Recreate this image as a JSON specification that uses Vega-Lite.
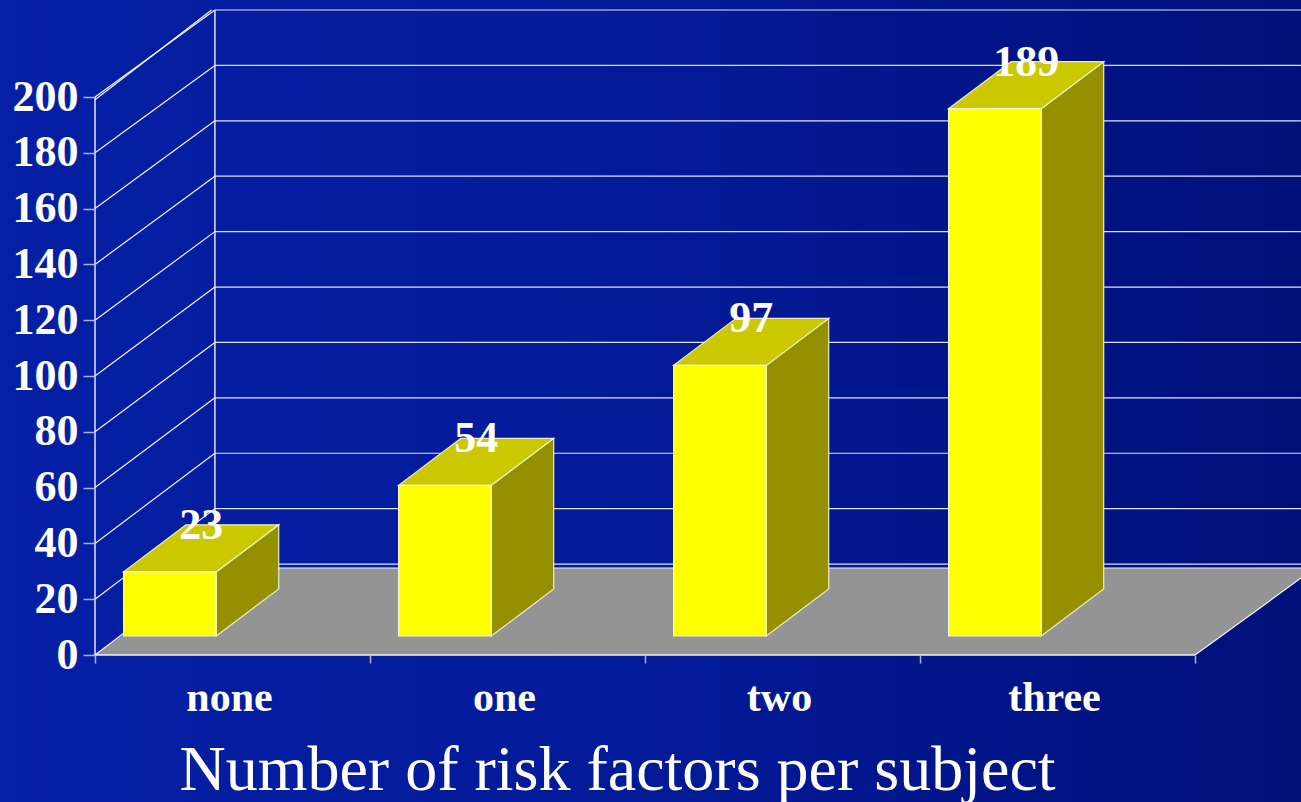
{
  "$schema": "https://vega.github.io/schema/vega-lite/v6.json",
  "width": 1301,
  "height": 802,
  "padding": 0,
  "autosize": {"type": "none"},
  "config": {"view": {"stroke": null}, "font": "Liberation Serif"},
  "params": [
    {"name": "wallX", "value": 0.436},
    {"name": "wallY", "value": 31.18},
    {"name": "backBase", "value": 32.6},
    {"name": "backScale", "value": 0.9929},
    {"name": "lift", "value": 6.81},
    {"name": "barLeft", "value": 0.104},
    {"name": "barW", "value": 0.337},
    {"name": "depthX", "value": 0.227},
    {"name": "depthY", "value": 16.85}
  ],
  "datasets": {
    "subjects": [
      {"risk": "none", "n": 23},
      {"risk": "one", "n": 54},
      {"risk": "two", "n": 97},
      {"risk": "three", "n": 189}
    ],
    "ticks": [
      {"tick": 0}, {"tick": 20}, {"tick": 40}, {"tick": 60}, {"tick": 80}, {"tick": 100},
      {"tick": 120}, {"tick": 140}, {"tick": 160}, {"tick": 180}, {"tick": 200}
    ]
  },
  "layer": [
    {
      "description": "Slide background",
      "data": {"values": [{}]},
      "mark": {
        "type": "rect",
        "color": {
          "gradient": "linear", "x1": 0, "y1": 0, "x2": 1, "y2": 0,
          "stops": [
            {"offset": 0, "color": "#051FA5"},
            {"offset": 0.5, "color": "#031A98"},
            {"offset": 1, "color": "#00107A"}
          ]
        }
      }
    },
    {
      "description": "Floor of the 3D box, also carries both axes",
      "data": {"name": "ticks"},
      "transform": [
        {"filter": "datum.tick === 0"},
        {"calculate": "[0, 1]", "as": "t"},
        {"flatten": ["t"]},
        {"calculate": "datum.t * wallY", "as": "fy"},
        {"calculate": "datum.t * wallX", "as": "fx"},
        {"calculate": "4 + datum.t * wallX", "as": "fx2"}
      ],
      "mark": {"type": "area", "orient": "horizontal", "color": "#949494", "clip": true},
      "encoding": {
        "y": {
          "field": "fy", "type": "quantitative",
          "scale": {"domain": [-52.688, 234.767], "nice": false, "zero": false},
          "axis": {
            "title": null, "offset": -95, "values": [0, 20, 40, 60, 80, 100, 120, 140, 160, 180, 200],
            "domain": false, "grid": false, "zindex": 1,
            "tickSize": 12, "tickColor": "#AEB6DC", "tickWidth": 1.5,
            "labelFont": "Liberation Serif", "labelFontWeight": "bold", "labelFontSize": 44,
            "labelColor": "#FFFFFF", "labelPadding": 5, "labelOverlap": false, "labelBound": false, "labelFlush": false
          }
        },
        "x": {
          "field": "fx", "type": "quantitative",
          "scale": {"domain": [-0.34545, 4.38545], "nice": false, "zero": false},
          "axis": {
            "title": "Number of risk factors per subject", "offset": -147, "values": [0, 1, 2, 3, 4],
            "labelExpr": "['none', 'one', 'two', 'three', ''][datum.value]",
            "domain": false, "grid": false, "zindex": 1,
            "tickSize": 8, "tickColor": "#AEB6DC", "tickWidth": 1.5,
            "labelFont": "Liberation Serif", "labelFontWeight": "bold", "labelFontSize": 42,
            "labelColor": "#FFFFFF", "labelPadding": 14, "labelOffset": 134, "labelOverlap": false, "labelBound": false, "labelFlush": false,
            "titleFont": "Liberation Serif", "titleFontWeight": "normal", "titleFontSize": 64, "titleColor": "#FFFFFF",
            "titleX": 617, "titleY": 134, "titleAlign": "center", "titleBaseline": "alphabetic"
          }
        },
        "x2": {"field": "fx2"}
      }
    },
    {
      "description": "Gridlines across the back wall",
      "data": {"name": "ticks"},
      "transform": [
        {"calculate": "wallX", "as": "x0"},
        {"calculate": "4 + wallX", "as": "x1"},
        {"calculate": "backBase + datum.tick * backScale", "as": "yb"}
      ],
      "mark": {"type": "rule", "color": "#E0E3F3", "strokeWidth": 1.2, "clip": true},
      "encoding": {
        "x": {"field": "x0", "type": "quantitative"},
        "x2": {"field": "x1"},
        "y": {"field": "yb", "type": "quantitative"}
      }
    },
    {
      "description": "Back edge of the floor",
      "data": {"name": "ticks"},
      "transform": [
        {"filter": "datum.tick === 0"},
        {"calculate": "wallX", "as": "x0"},
        {"calculate": "4 + wallX", "as": "x1"},
        {"calculate": "wallY", "as": "yb"}
      ],
      "mark": {"type": "rule", "color": "#F2F3FA", "strokeWidth": 1.2, "clip": true},
      "encoding": {
        "x": {"field": "x0", "type": "quantitative"},
        "x2": {"field": "x1"},
        "y": {"field": "yb", "type": "quantitative"}
      }
    },
    {
      "description": "Diagonal gridlines on the side wall",
      "data": {"name": "ticks"},
      "transform": [
        {"calculate": "0", "as": "x0"},
        {"calculate": "wallX", "as": "x1"},
        {"calculate": "backBase + datum.tick * backScale", "as": "yb"}
      ],
      "mark": {"type": "rule", "color": "#F2F3FA", "strokeWidth": 1.2},
      "encoding": {
        "x": {"field": "x0", "type": "quantitative"},
        "x2": {"field": "x1"},
        "y": {"field": "tick", "type": "quantitative"},
        "y2": {"field": "yb"}
      }
    },
    {
      "description": "Extra diagonal doubling the top edge of the side wall",
      "data": {"name": "ticks"},
      "transform": [
        {"filter": "datum.tick === 200"},
        {"calculate": "0", "as": "x0"},
        {"calculate": "wallX - 0.012", "as": "x1"},
        {"calculate": "datum.tick - 1", "as": "y0"},
        {"calculate": "backBase + datum.tick * backScale", "as": "yb"}
      ],
      "mark": {"type": "rule", "color": "#F2F3FA", "strokeWidth": 1.2},
      "encoding": {
        "x": {"field": "x0", "type": "quantitative"},
        "x2": {"field": "x1"},
        "y": {"field": "y0", "type": "quantitative"},
        "y2": {"field": "yb"}
      }
    },
    {
      "description": "Vertical edges of the side wall",
      "data": {"name": "ticks"},
      "transform": [
        {"filter": "datum.tick === 200"},
        {"calculate": "[0, wallX]", "as": "edge"},
        {"flatten": ["edge"]},
        {"calculate": "datum.edge === 0 ? 0 : wallY", "as": "y0"},
        {"calculate": "datum.y0 + 200", "as": "y1"}
      ],
      "mark": {"type": "rule", "color": "#F2F3FA", "strokeWidth": 1.4},
      "encoding": {
        "x": {"field": "edge", "type": "quantitative"},
        "y": {"field": "y0", "type": "quantitative"},
        "y2": {"field": "y1"}
      }
    },
    {
      "description": "Front edge of the floor",
      "data": {"name": "ticks"},
      "transform": [
        {"filter": "datum.tick === 0"},
        {"calculate": "0", "as": "x0"},
        {"calculate": "4", "as": "x1"}
      ],
      "mark": {"type": "rule", "color": "#F2F3FA", "strokeWidth": 1.4},
      "encoding": {
        "x": {"field": "x0", "type": "quantitative"},
        "x2": {"field": "x1"},
        "y": {"field": "tick", "type": "quantitative"}
      }
    },
    {
      "description": "Right edge of the floor",
      "data": {"name": "ticks"},
      "transform": [
        {"filter": "datum.tick === 0"},
        {"calculate": "4", "as": "x0"},
        {"calculate": "4 + wallX", "as": "x1"},
        {"calculate": "wallY", "as": "yb"}
      ],
      "mark": {"type": "rule", "color": "#F2F3FA", "strokeWidth": 1.2, "clip": true},
      "encoding": {
        "x": {"field": "x0", "type": "quantitative"},
        "x2": {"field": "x1"},
        "y": {"field": "tick", "type": "quantitative"},
        "y2": {"field": "yb"}
      }
    },
    {
      "description": "Side faces of the bars",
      "data": {"name": "subjects"},
      "transform": [
        {"window": [{"op": "row_number", "as": "idx"}]},
        {"calculate": "[0, 1]", "as": "t"},
        {"flatten": ["t"]},
        {"calculate": "datum.idx - 1 + barLeft + barW + datum.t * depthX", "as": "sx"},
        {"calculate": "lift + datum.t * depthY", "as": "sy0"},
        {"calculate": "lift + datum.n + datum.t * depthY", "as": "sy1"}
      ],
      "mark": {"type": "area", "orient": "vertical", "color": "#949000", "stroke": "#EDEDC8", "strokeWidth": 1.2},
      "encoding": {
        "x": {"field": "sx", "type": "quantitative"},
        "y": {"field": "sy0", "type": "quantitative"},
        "y2": {"field": "sy1"},
        "detail": {"field": "risk"}
      }
    },
    {
      "description": "Top faces of the bars",
      "data": {"name": "subjects"},
      "transform": [
        {"window": [{"op": "row_number", "as": "idx"}]},
        {"calculate": "[0, 1]", "as": "t"},
        {"flatten": ["t"]},
        {"calculate": "datum.idx - 1 + barLeft + datum.t * depthX", "as": "tx0"},
        {"calculate": "datum.tx0 + barW", "as": "tx1"},
        {"calculate": "lift + datum.n + datum.t * depthY", "as": "ty"}
      ],
      "mark": {"type": "area", "orient": "horizontal", "color": "#CCC800", "stroke": "#EDEDC8", "strokeWidth": 1.2},
      "encoding": {
        "y": {"field": "ty", "type": "quantitative"},
        "x": {"field": "tx0", "type": "quantitative"},
        "x2": {"field": "tx1"},
        "detail": {"field": "risk"}
      }
    },
    {
      "description": "Front faces of the bars",
      "data": {"name": "subjects"},
      "transform": [
        {"window": [{"op": "row_number", "as": "idx"}]},
        {"calculate": "datum.idx - 1 + barLeft", "as": "fx0"},
        {"calculate": "datum.fx0 + barW", "as": "fx1"},
        {"calculate": "lift", "as": "fy0"},
        {"calculate": "lift + datum.n", "as": "fy1"}
      ],
      "mark": {"type": "rect", "color": "#FFFF00", "stroke": "#F4F4D8", "strokeWidth": 1.2},
      "encoding": {
        "x": {"field": "fx0", "type": "quantitative"},
        "x2": {"field": "fx1"},
        "y": {"field": "fy0", "type": "quantitative"},
        "y2": {"field": "fy1"}
      }
    },
    {
      "description": "Value labels on the bar tops",
      "data": {"name": "subjects"},
      "transform": [
        {"window": [{"op": "row_number", "as": "idx"}]},
        {"calculate": "datum.idx - 1 + barLeft + (barW + depthX) / 2", "as": "lx"},
        {"calculate": "lift + datum.n + depthY", "as": "ly"}
      ],
      "mark": {"type": "text", "font": "Liberation Serif", "fontWeight": "bold", "fontSize": 44, "color": "#FFFFFF", "baseline": "middle", "align": "center", "dy": 1},
      "encoding": {
        "x": {"field": "lx", "type": "quantitative"},
        "y": {"field": "ly", "type": "quantitative"},
        "text": {"field": "n", "type": "quantitative"}
      }
    }
  ]
}
